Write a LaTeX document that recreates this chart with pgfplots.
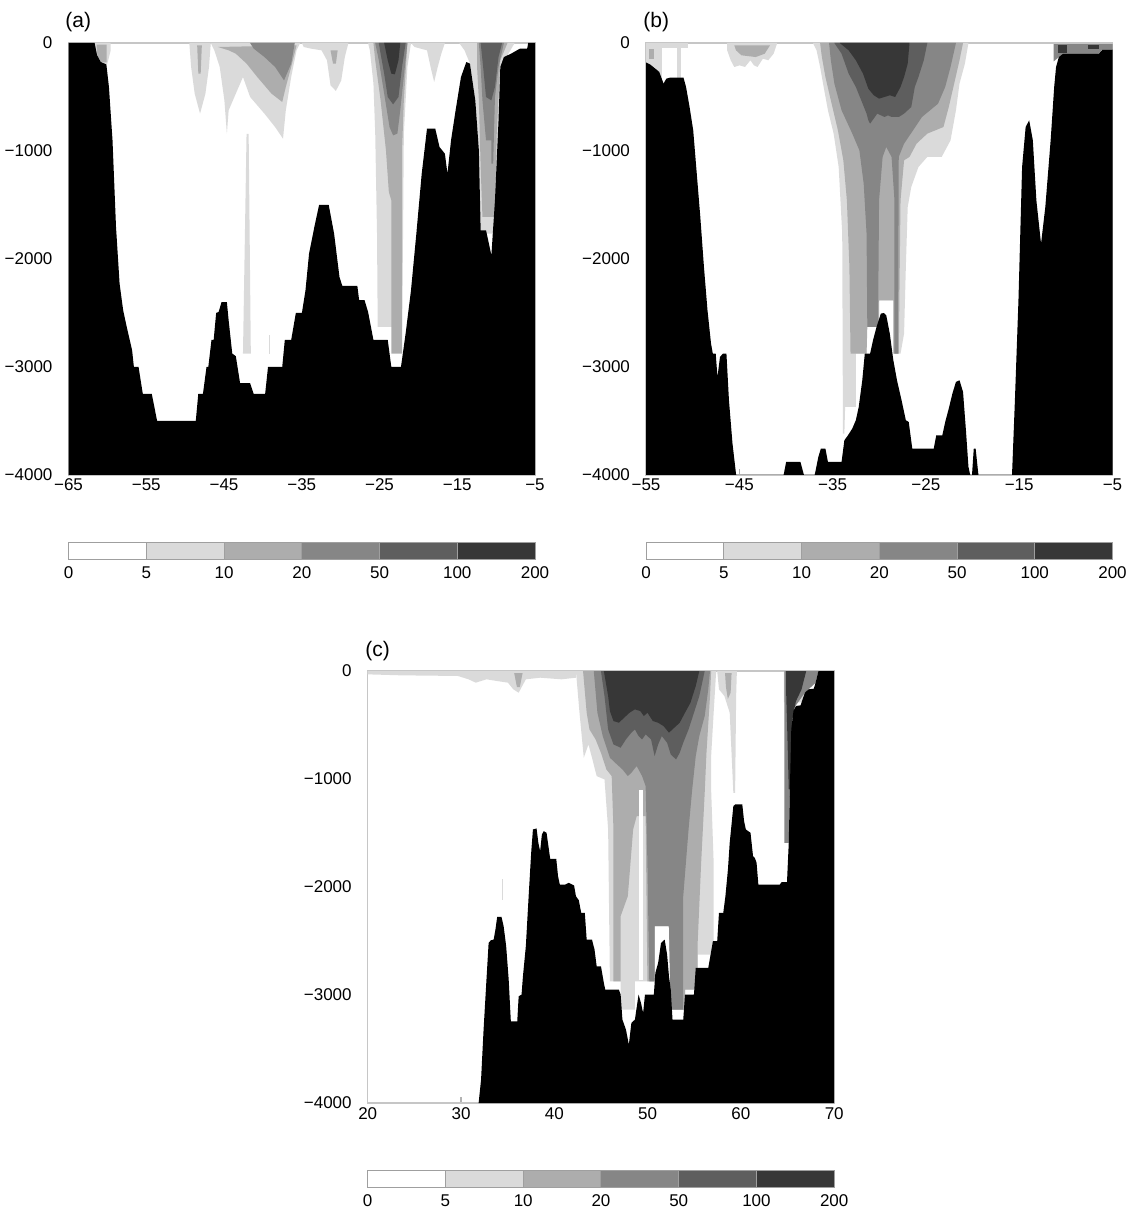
\documentclass[border=0pt]{standalone}
\usepackage{fontspec}
\setmainfont{Liberation Sans}
\usepackage{pgfplots}
\pgfplotsset{compat=1.18}
\definecolor{cA}{HTML}{DADADA}
\definecolor{cB}{HTML}{ADADAD}
\definecolor{cC}{HTML}{868686}
\definecolor{cD}{HTML}{5E5E5E}
\definecolor{cE}{HTML}{373737}
\newcommand\tl{\fontsize{8.5}{10}\selectfont}
\tikzset{cell/.style={fill=#1, draw=gray!75, line width=0.5pt},
  lev/.style={fill=#1, draw=none}}
\pgfplotsset{
 panel/.style={anchor=north west, scale only axis, width=233.25pt, height=216pt,
   ymin=-4000, ymax=0, ytick={-4000,-3000,-2000,-1000,0},
   yticklabels={−4000,−3000,−2000,−1000,0},
   axis line style={gray!45, line width=0.7pt},
   xtick style={gray!60, line width=0.6pt}, ytick style={draw=none},
   major tick length=3pt, xtick pos=bottom, ytick pos=left, tick align=inside,
   ticklabel style={font=\tl}, yticklabel style={xshift=-4.5pt},
   xticklabel style={anchor=base, inner sep=0pt, yshift=-8pt}},
 cbar/.style={anchor=north west, scale only axis, width=233.25pt, height=8.5pt,
   xmin=0, xmax=6, ymin=0, ymax=1, axis line style={draw=none}, clip=false,
   ytick=\empty, xtick={0,1,2,3,4,5,6}, xticklabels={0,5,10,20,50,100,200},
   major tick length=0pt, xtick style={draw=none},
   ticklabel style={font=\tl}, xticklabel style={anchor=base, inner sep=0pt, yshift=-9.5pt}}
}
\newcommand\colorbar{%
  \addplot[cell=white] coordinates {(0,0)(1,0)(1,1)(0,1)} -- cycle;
  \addplot[cell=cA] coordinates {(1,0)(2,0)(2,1)(1,1)} -- cycle;
  \addplot[cell=cB] coordinates {(2,0)(3,0)(3,1)(2,1)} -- cycle;
  \addplot[cell=cC] coordinates {(3,0)(4,0)(4,1)(3,1)} -- cycle;
  \addplot[cell=cD] coordinates {(4,0)(5,0)(5,1)(4,1)} -- cycle;
  \addplot[cell=cE] coordinates {(5,0)(6,0)(6,1)(5,1)} -- cycle;}
\begin{document}
\begin{tikzpicture}
\path[use as bounding box] (0,0) rectangle (565.5pt,-604pt);
% ---------------- (a)
\begin{axis}[panel, at={(34.25pt,-21.5pt)}, xmin=-65, xmax=-5,
  xtick={-65,-55,-45,-35,-25,-15,-5}, xticklabels={−65,−55,−45,−35,−25,−15,−5}]
% 5-10
\addplot[lev=cA] coordinates {(-61.64,0)(-59.57,0)(-59.57,-68)(-60.03,-198)(-61.41,-198)} -- cycle;
\addplot[lev=cA] coordinates {(-49.46,0)(-46.70,0)(-46.93,-222)(-47.39,-469)(-48.08,-654)(-48.77,-469)(-49.23,-222)} -- cycle;
\addplot[lev=cA] coordinates {(-46.70,0)(-35.21,0)(-35.67,-68)(-36.36,-315)(-37.05,-623)(-37.41,-886)(-38.43,-778)(-39.80,-654)(-41.64,-500)(-42.56,-315)(-43.48,-469)(-44.40,-623)(-44.63,-839)(-44.95,-531)(-45.55,-222)(-46.24,-68)} -- cycle;
\addplot[lev=cA] coordinates {(-42.10,-842)(-41.83,-842)(-41.55,-2876)(-42.56,-2876)} -- cycle;
\addplot[lev=cA] coordinates {(-39.25,-2700)(-39.02,-2700)(-39.02,-2876)(-39.25,-2876)} -- cycle;
\addplot[lev=cA] coordinates {(-34.98,0)(-29.00,0)(-29.46,-130)(-29.92,-346)(-30.61,-444)(-31.30,-392)(-31.76,-160)(-32.45,-68)(-33.83,-52)(-34.75,-37)} -- cycle;
\addplot[lev=cA] coordinates {(-26.47,0)(-20.95,0)(-21.41,-222)(-21.87,-839)(-21.97,-1765)(-22.10,-2629)(-25.23,-2629)(-25.32,-1765)(-25.55,-839)(-25.78,-376)(-26.24,-68)} -- cycle;
\addplot[lev=cA] coordinates {(-20.95,0)(-16.59,0)(-17.05,-99)(-17.51,-222)(-17.97,-361)(-18.43,-222)(-18.89,-68)(-20.49,-37)} -- cycle;
\addplot[lev=cA] coordinates {(-14.75,0)(-7.62,0)(-8.54,-114)(-9.46,-222)(-9.69,-1148)(-9.92,-1457)(-10.15,-1765)(-11.99,-1765)(-12.22,-994)(-12.68,-531)(-13.37,-191)(-14.06,-68)} -- cycle;
% 10-20
\addplot[lev=cB] coordinates {(-61.4,-15)(-60.1,-15)(-60.1,-180)(-61.2,-180)} -- cycle;
\addplot[lev=cB] coordinates {(-48.45,-22)(-47.85,-22)(-48.0,-284)(-48.3,-284)} -- cycle;
\addplot[lev=cB] coordinates {(-45.78,-37)(-35.67,-22)(-36.36,-222)(-37.05,-407)(-37.51,-546)(-38.89,-469)(-40.72,-315)(-42.10,-191)(-43.48,-99)(-44.40,-68)} -- cycle;
\addplot[lev=cB] coordinates {(-31.30,-68)(-30.38,-68)(-30.61,-191)(-30.98,-191)} -- cycle;
\addplot[lev=cB] coordinates {(-25.78,0)(-21.41,0)(-21.87,-531)(-22.10,-994)(-22.10,-2876)(-23.48,-2876)(-23.48,-1457)(-23.80,-1379)(-24.17,-994)(-24.86,-531)(-25.55,-160)} -- cycle;
\addplot[lev=cB] coordinates {(-12.45,0)(-8.54,0)(-9.46,-160)(-9.92,-839)(-10.15,-1611)(-11.76,-1611)(-11.99,-1148)(-12.22,-531)(-12.45,-222)} -- cycle;
% 20-50
\addplot[lev=cC] coordinates {(-41.64,0)(-35.90,0)(-36.36,-191)(-37.28,-346)(-38.43,-222)(-39.80,-130)(-41.18,-52)} -- cycle;
\addplot[lev=cC] coordinates {(-25.55,0)(-21.41,0)(-21.97,-376)(-22.33,-623)(-22.70,-839)(-23.25,-855)(-23.71,-778)(-24.40,-469)(-25.09,-160)} -- cycle;
\addplot[lev=cC] coordinates {(-12.22,0)(-9.00,0)(-9.69,-222)(-10.15,-500)(-10.38,-1117)(-10.61,-1117)(-10.61,-901)(-11.30,-901)(-11.76,-531)(-11.99,-222)} -- cycle;
% 50-100
\addplot[lev=cD] coordinates {(-25.09,0)(-21.64,0)(-22.10,-222)(-22.56,-500)(-23.25,-568)(-23.94,-500)(-24.40,-284)(-24.86,-99)} -- cycle;
\addplot[lev=cD] coordinates {(-11.99,0)(-9.23,0)(-9.69,-130)(-10.15,-407)(-10.61,-531)(-11.30,-500)(-11.67,-222)} -- cycle;
% 100-200
\addplot[lev=cE] coordinates {(-24.40,0)(-22.33,0)(-22.56,-160)(-23.02,-290)(-23.48,-284)(-23.94,-160)} -- cycle;
% topography
\addplot[lev=black] coordinates {(-65,-4000)(-65,0)(-61.64,0)(-61.32,-114)(-60.86,-176)(-60.13,-198)(-59.80,-407)(-59.34,-901)(-58.89,-1703)(-58.43,-2228)(-57.97,-2475)(-57.51,-2629)(-56.82,-2845)(-56.59,-3000)(-55.99,-3000)(-55.44,-3250)(-54.29,-3250)(-53.60,-3500)(-48.63,-3500)(-48.31,-3250)(-47.71,-3250)(-47.25,-3000)(-47.02,-3000)(-46.61,-2750)(-46.33,-2750)(-46.01,-2500)(-45.69,-2490)(-45.32,-2400)(-44.63,-2400)(-44.40,-2570)(-43.94,-2875)(-43.48,-2900)(-42.93,-3150)(-41.64,-3150)(-41.18,-3250)(-39.71,-3250)(-39.34,-3000)(-37.51,-3000)(-37.18,-2750)(-36.36,-2750)(-35.76,-2500)(-34.98,-2500)(-34.52,-2290)(-34.06,-1950)(-33.37,-1700)(-32.77,-1500)(-31.53,-1500)(-30.84,-1765)(-30.15,-2166)(-29.78,-2250)(-27.85,-2250)(-27.62,-2380)(-26.93,-2380)(-26.47,-2490)(-25.78,-2750)(-23.94,-2750)(-23.48,-3000)(-22.24,-3000)(-21.64,-2690)(-20.95,-2290)(-20.26,-1765)(-19.57,-1210)(-18.89,-793)(-17.83,-793)(-17.28,-963)(-16.59,-1025)(-16.26,-1210)(-15.80,-901)(-15.21,-623)(-14.52,-315)(-13.83,-176)(-13.37,-191)(-12.68,-531)(-12.22,-994)(-11.99,-1734)(-11.30,-1734)(-10.93,-1858)(-10.61,-1966)(-10.15,-1457)(-9.69,-716)(-9.46,-222)(-9.00,-130)(-8.08,-99)(-6.93,-52)(-6.01,-52)(-5.87,0)(-5,0)(-5,-4000)} -- cycle;
\end{axis}
% ---------------- (b)
\begin{axis}[panel, at={(323pt,-21.5pt)}, xmin=-55, xmax=-5,
  xtick={-55,-45,-35,-25,-15,-5}, xticklabels={−55,−45,−35,−25,−15,−5}]
\addplot[lev=cA] coordinates {(-55,0)(-50.5,0)(-50.5,-45)(-55,-45)} -- cycle;
\addplot[lev=cA] coordinates {(-55,0)(-53.3,0)(-53.3,-330)(-55,-330)} -- cycle;
\addplot[lev=cA] coordinates {(-51.7,0)(-51.3,0)(-51.3,-330)(-51.7,-330)} -- cycle;
\addplot[lev=cA] coordinates {(-46.30,0)(-40.94,0)(-41.32,-99)(-41.90,-160)(-42.47,-145)(-43.05,-222)(-43.43,-207)(-43.81,-160)(-44.39,-222)(-44.96,-207)(-45.54,-222)(-45.92,-160)(-46.30,-68)} -- cycle;
\addplot[lev=cA] coordinates {(-37.11,0)(-20.44,0)(-20.82,-191)(-21.40,-376)(-21.78,-623)(-22.36,-901)(-23.31,-1055)(-24.85,-1055)(-25.80,-1148)(-26.57,-1333)(-26.95,-1518)(-27.15,-2074)(-27.34,-2691)(-27.72,-2876)(-28.49,-2876)(-28.49,-2382)(-30.02,-2382)(-30.02,-2629)(-31.36,-2629)(-31.36,-2876)(-32.51,-2876)(-32.51,-3370)(-33.66,-3370)(-33.74,-3617)(-33.89,-3617)(-33.97,-1765)(-34.35,-1148)(-34.89,-839)(-35.50,-623)(-35.96,-407)(-36.34,-222)(-36.72,-68)} -- cycle;
\addplot[lev=cB] coordinates {(-54.7,-60)(-54.1,-60)(-54.1,-150)(-54.7,-150)} -- cycle;
\addplot[lev=cB] coordinates {(-45.54,-22)(-41.71,-22)(-42.28,-99)(-43.24,-130)(-44.77,-114)(-45.35,-68)} -- cycle;
\addplot[lev=cB] coordinates {(-36.34,0)(-21.02,0)(-21.40,-160)(-21.97,-376)(-22.55,-593)(-23.12,-778)(-24.85,-839)(-26.00,-932)(-26.76,-1055)(-27.34,-1086)(-27.72,-1457)(-27.91,-2876)(-28.49,-2876)(-28.49,-2382)(-30.02,-2382)(-30.02,-2629)(-31.28,-2629)(-31.36,-2876)(-33.08,-2876)(-33.20,-2074)(-33.47,-1457)(-33.85,-1086)(-34.43,-809)(-35.19,-531)(-35.77,-315)(-36.15,-130)} -- cycle;
\addplot[lev=cC] coordinates {(-35.38,0)(-21.78,0)(-22.36,-222)(-22.93,-407)(-23.70,-562)(-25.42,-685)(-26.38,-809)(-27.34,-932)(-27.91,-1055)(-27.99,-2876)(-28.37,-2876)(-28.37,-1457)(-28.68,-1055)(-29.25,-963)(-29.64,-1055)(-30.02,-1457)(-30.13,-2629)(-31.28,-2629)(-31.36,-1765)(-31.67,-1302)(-32.13,-994)(-32.89,-839)(-34.04,-623)(-34.81,-376)(-35.19,-160)} -- cycle;
\addplot[lev=cC] coordinates {(-11.3,-10)(-5,-10)(-5,-62)(-6.1,-62)(-6.5,-99)(-10.3,-99)(-11.3,-170)} -- cycle;
\addplot[lev=cD] coordinates {(-34.81,0)(-24.85,0)(-25.23,-160)(-25.80,-315)(-26.19,-407)(-26.57,-593)(-27.34,-654)(-27.91,-685)(-28.68,-685)(-29.06,-670)(-29.44,-685)(-30.21,-654)(-30.98,-747)(-31.17,-716)(-31.36,-654)(-31.93,-531)(-32.51,-407)(-33.28,-284)(-34.04,-99)} -- cycle;
\addplot[lev=cE] coordinates {(-34.23,0)(-26.76,0)(-26.95,-191)(-27.34,-315)(-27.72,-407)(-28.30,-500)(-28.87,-484)(-29.44,-500)(-30.02,-515)(-30.59,-484)(-31.17,-423)(-31.74,-284)(-32.51,-160)(-33.28,-68)} -- cycle;
\addplot[lev=cE] coordinates {(-10.8,-15)(-9.9,-15)(-9.9,-90)(-10.8,-90)} -- cycle;
\addplot[lev=cE] coordinates {(-7.6,-15)(-6.5,-15)(-6.5,-60)(-7.6,-60)} -- cycle;
\addplot[lev=black] coordinates {(-55,-4000)(-55,-180)(-54.54,-200)(-53.97,-240)(-53.58,-268)(-53.12,-376)(-52.82,-330)(-52.43,-321)(-50.98,-321)(-50.71,-407)(-50.33,-593)(-49.94,-809)(-49.56,-1210)(-49.18,-1611)(-48.79,-2074)(-48.41,-2475)(-48.03,-2784)(-47.84,-2876)(-47.53,-2876)(-47.34,-3092)(-47.07,-2907)(-46.76,-2876)(-46.38,-2876)(-46.11,-3308)(-45.73,-3709)(-45.34,-4000)(-40.25,-4000)(-39.98,-3879)(-38.45,-3879)(-38.07,-4000)(-36.92,-4000)(-36.53,-3833)(-36.26,-3756)(-35.77,-3756)(-35.50,-3879)(-34.04,-3879)(-33.74,-3679)(-33.35,-3632)(-32.89,-3570)(-32.51,-3493)(-32.20,-3370)(-31.82,-3123)(-31.55,-2876)(-30.98,-2876)(-30.67,-2753)(-30.29,-2629)(-29.83,-2506)(-29.52,-2500)(-29.25,-2521)(-28.87,-2691)(-28.49,-2938)(-28.10,-3123)(-27.61,-3308)(-27.15,-3493)(-26.84,-3509)(-26.46,-3756)(-24.16,-3756)(-23.89,-3632)(-23.24,-3632)(-22.93,-3509)(-22.55,-3385)(-22.16,-3246)(-21.78,-3138)(-21.40,-3123)(-21.02,-3231)(-20.71,-3586)(-20.44,-3925)(-20.25,-4000)(-20.06,-4000)(-19.87,-3756)(-19.67,-3756)(-19.37,-4000)(-15.77,-4000)(-15.46,-3308)(-15.08,-2382)(-14.69,-1148)(-14.31,-778)(-13.93,-716)(-13.54,-901)(-13.16,-1457)(-12.66,-1858)(-12.20,-1518)(-11.63,-901)(-11.25,-407)(-11.05,-222)(-10.75,-130)(-10.29,-99)(-6.46,-99)(-6.07,-62)(-5,-62)(-5,-4000)} -- cycle;
\end{axis}
% ---------------- (c)
\begin{axis}[panel, at={(183.85pt,-335.5pt)}, xmin=20, xmax=70,
  xtick={20,30,40,50,60,70}, xticklabels={20,30,40,50,60,70}]
\addplot[lev=cA] coordinates {(20,0)(42.32,0)(42.32,-62)(40.78,-77)(38.48,-62)(36.95,-77)(36.18,-201)(35.61,-170)(35.03,-108)(33.88,-93)(32.73,-77)(31.58,-108)(30.81,-77)(29.66,-46)(23.53,-40)(20,-31)} -- cycle;
\addplot[lev=cA] coordinates {(42.32,0)(42.70,-386)(43.16,-803)(43.66,-680)(44.04,-803)(44.54,-973)(45.38,-1004)(45.77,-1467)(45.96,-2873)(47.11,-2873)(47.11,-3135)(48.64,-3135)(48.64,-2873)(50.75,-2873)(50.75,-2363)(52.29,-2363)(52.48,-3135)(54.01,-3135)(54.01,-2950)(55.35,-2950)(55.35,-2626)(57.08,-2626)(57.08,-1776)(56.81,-1097)(56.81,-788)(57.08,-386)(57.35,0)} -- cycle;
\addplot[lev=cA] coordinates {(57.46,0)(59.57,0)(59.49,-232)(59.38,-1128)(59.19,-1128)(58.80,-386)(58.23,-232)(57.65,-170)} -- cycle;
\addplot[lev=cA] coordinates {(34.40,-1930)(34.55,-1930)(34.55,-2120)(34.40,-2120)} -- cycle;
\addplot[lev=cA] coordinates {(64.6,0)(68.31,0)(68.0,-108)(67.2,-170)(66.5,-290)(64.6,-290)} -- cycle;
\addplot[lev=cB] coordinates {(35.7,-20)(36.6,-20)(36.3,-150)(36.0,-150)} -- cycle;
\addplot[lev=cB] coordinates {(43.08,0)(43.47,-386)(43.77,-541)(44.42,-633)(45.00,-757)(45.58,-911)(46.15,-973)(46.34,-1467)(46.34,-2873)(47.11,-2873)(47.11,-2270)(47.88,-2085)(48.45,-1467)(48.83,-1344)(49.79,-1344)(49.98,-2873)(50.75,-2873)(50.75,-2363)(52.29,-2363)(52.48,-3135)(54.01,-3135)(54.01,-2950)(55.35,-2950)(55.35,-2548)(55.74,-1776)(56.12,-1128)(56.31,-757)(56.69,-232)(56.81,0)} -- cycle;
\addplot[lev=cB] coordinates {(58.3,-20)(59.0,-20)(58.9,-200)(58.6,-260)(58.4,-150)} -- cycle;
\addplot[lev=cC] coordinates {(44.23,0)(44.62,-386)(45.19,-602)(45.96,-803)(46.53,-850)(47.30,-911)(47.88,-973)(48.26,-942)(48.83,-880)(49.41,-973)(49.79,-1066)(49.98,-1776)(50.18,-2873)(50.75,-2873)(50.75,-2363)(52.29,-2363)(52.48,-3135)(53.82,-3135)(53.82,-2085)(54.39,-1467)(54.78,-1097)(55.16,-788)(55.54,-602)(56.12,-417)(56.50,-170)(56.69,0)} -- cycle;
\addplot[lev=cC] coordinates {(64.67,0)(68.31,0)(68.01,-108)(66.86,-201)(65.71,-340)(65.40,-541)(65.25,-1097)(65.13,-1591)(64.67,-1591)} -- cycle;
\addplot[lev=cD] coordinates {(45.00,0)(45.38,-232)(45.77,-541)(46.34,-680)(47.11,-710)(47.68,-633)(48.26,-571)(48.64,-541)(49.03,-602)(49.41,-633)(49.79,-587)(50.37,-633)(50.75,-788)(51.13,-680)(51.52,-602)(52.09,-664)(52.48,-772)(53.05,-819)(53.44,-757)(53.82,-664)(54.39,-541)(54.97,-386)(55.54,-232)(55.93,-77)(56.12,0)} -- cycle;
\addplot[lev=cE] coordinates {(45.31,0)(45.77,-232)(45.96,-371)(46.34,-463)(46.92,-479)(47.49,-432)(48.07,-386)(48.64,-355)(49.22,-371)(49.60,-417)(49.98,-386)(50.56,-463)(51.13,-479)(51.71,-510)(52.29,-571)(52.86,-525)(53.44,-479)(54.01,-386)(54.59,-294)(55.16,-139)(55.54,0)} -- cycle;
\addplot[lev=cE] coordinates {(64.85,0)(67.0,0)(66.5,-170)(65.9,-280)(65.5,-450)(65.32,-1097)(65.13,-1097)(64.95,-500)(64.85,-200)} -- cycle;
\addplot[lev=white] coordinates {(49.10,-1100)(49.55,-1100)(49.55,-2860)(49.10,-2860)} -- cycle;
\addplot[lev=black] coordinates {(31.89,-4000)(32.15,-3784)(32.42,-3321)(32.73,-2857)(32.96,-2518)(33.19,-2494)(33.50,-2487)(33.69,-2394)(33.88,-2277)(34.34,-2277)(34.57,-2363)(34.84,-2548)(35.11,-2857)(35.34,-3243)(36.03,-3243)(36.18,-3012)(36.49,-2996)(36.64,-2826)(36.95,-2548)(37.25,-2085)(37.52,-1684)(37.71,-1467)(38.10,-1458)(38.29,-1591)(38.48,-1668)(38.67,-1514)(38.87,-1483)(39.17,-1498)(39.56,-1739)(40.21,-1739)(40.40,-1900)(40.59,-1977)(41.17,-1977)(41.55,-1961)(42.12,-1986)(42.32,-2085)(42.62,-2122)(42.89,-2240)(43.27,-2240)(43.47,-2487)(44.04,-2487)(44.31,-2579)(44.54,-2734)(45.00,-2734)(45.31,-2888)(45.46,-2950)(46.92,-2950)(47.11,-2996)(47.30,-3228)(47.68,-3321)(47.99,-3460)(48.26,-3259)(48.64,-3228)(49.03,-2996)(49.29,-3074)(49.52,-3166)(49.72,-2996)(50.67,-2996)(50.83,-2796)(51.13,-2703)(51.44,-2518)(51.83,-2487)(52.09,-2626)(52.29,-2826)(52.48,-2950)(52.67,-3228)(53.82,-3228)(54.01,-2996)(54.97,-2996)(55.16,-2749)(56.50,-2749)(56.69,-2657)(57.00,-2502)(57.46,-2502)(57.65,-2240)(58.11,-2240)(58.34,-2085)(58.61,-1838)(58.80,-1591)(59.19,-1251)(59.38,-1236)(60.15,-1236)(60.34,-1390)(60.53,-1467)(61.03,-1498)(61.30,-1714)(61.49,-1730)(61.68,-1776)(61.87,-1977)(64.17,-1977)(64.36,-1955)(64.94,-1955)(65.13,-1591)(65.25,-1097)(65.40,-541)(65.63,-371)(65.90,-324)(66.40,-318)(66.55,-278)(66.86,-201)(67.24,-170)(67.81,-164)(68.01,-108)(68.31,0)(70,0)(70,-4000)} -- cycle;
\end{axis}
% ---------------- colour bars
\begin{axis}[cbar, at={(34.25pt,-271pt)}] \colorbar \end{axis}
\begin{axis}[cbar, at={(323pt,-271pt)}] \colorbar \end{axis}
\begin{axis}[cbar, at={(183.85pt,-585pt)}] \colorbar \end{axis}
% ---------------- panel letters
\node[anchor=base west, font=\fontsize{10.5}{12}\selectfont, inner sep=0pt] at (32.5pt,-14pt) {(a)};
\node[anchor=base west, font=\fontsize{10.5}{12}\selectfont, inner sep=0pt] at (321.5pt,-14pt) {(b)};
\node[anchor=base west, font=\fontsize{10.5}{12}\selectfont, inner sep=0pt] at (182.5pt,-328pt) {(c)};
\end{tikzpicture}
\end{document}
